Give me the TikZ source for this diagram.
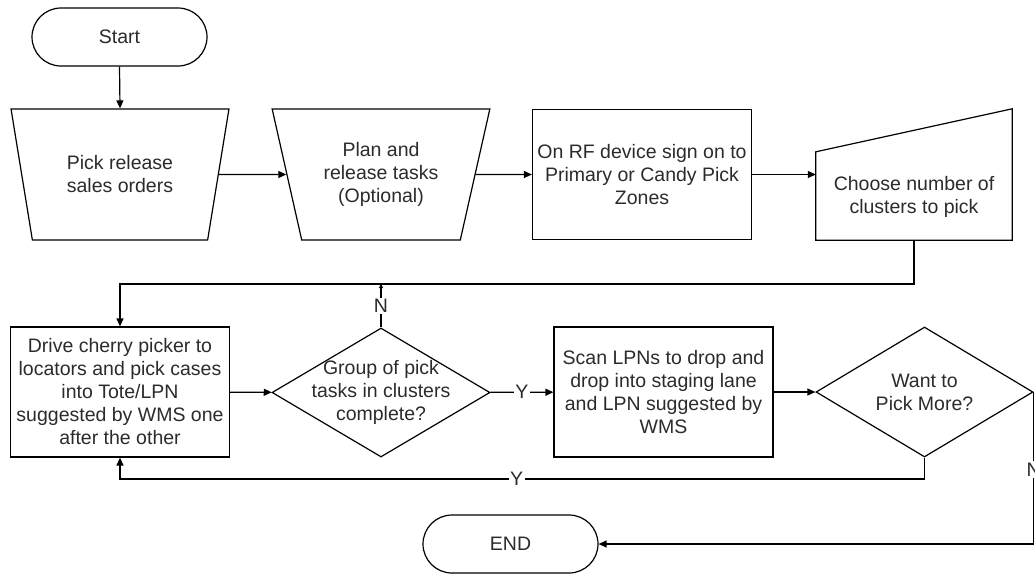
\documentclass[tikz,border=0pt]{standalone}
\usepackage{fontspec}
\setmainfont{Liberation Sans}
\usetikzlibrary{shapes.geometric,shapes.misc,arrows.meta,calc}
\definecolor{ink}{HTML}{2B2B2B}
\begin{document}
\begin{tikzpicture}[x=1pt,y=-1pt,
  every node/.style={font=\fontsize{19.5}{23}\selectfont, text=ink},
  line/.style={draw=black, line width=1.2pt},
  arr/.style={line, -{Triangle[length=8pt,width=7pt]}},
  smallarr/.style={line, -{Triangle[length=4pt,width=4pt]}},
  terminal/.style={rounded rectangle, draw, line width=1.2pt, minimum width=175pt, minimum height=58pt, inner sep=0pt},
  process/.style={rectangle, draw, line width=1.2pt, minimum width=219pt, minimum height=130pt, align=center, inner sep=0pt},
  manualop/.style={trapezium, trapezium stretches=true, shape border rotate=180,
    trapezium left angle=72, trapezium right angle=72, draw, line width=1.2pt,
    minimum width=218pt, minimum height=131pt, inner sep=2pt, align=center},
  decision/.style={diamond, draw, line width=1.2pt, minimum width=218pt, minimum height=129pt, inner sep=0pt},
  inlabel/.style={align=center},
  flag/.style={fill=white, inner sep=1.5pt}
]
\useasboundingbox (0,0) rectangle (1035,574);

% first row
\node[terminal] (start) at (119.5,37) {Start};
\node[manualop] (pick) at (120,174.5) {Pick release\\sales orders};
\node[manualop] (plan) at (381,174.5) {Plan and\\release tasks\\(Optional)};
\node[process] (rf) at (642,174.5) {On RF device sign on to\\Primary or Candy Pick\\Zones};
\node[minimum width=196pt, minimum height=131pt, inner sep=0pt] (choose) at (914,174.5) {};
\draw[line] (choose.south west) -- (choose.south east) -- (choose.north east)
  -- ($(choose.north west)+(0,43)$) -- cycle;
\node[align=center] (choosetext) at ($(choose)+(0,22)$) {Choose number of\\clusters to pick};

% second row
\node[process] (drive) at (120,392) {Drive cherry picker to\\locators and pick cases\\into Tote/LPN\\suggested by WMS one\\after the other};
\node[decision, label={[inlabel]center:Group of pick\\tasks in clusters\\complete?}] (grp) at (381,392.5) {};
\node[process] (scan) at (663.5,392) {Scan LPNs to drop and\\drop into staging lane\\and LPN suggested by\\WMS};
\node[decision, minimum width=217pt, minimum height=130pt, label={[inlabel]center:Want to\\Pick More?}] (more) at (924.5,392) {};

\node[terminal] (end) at (510.5,544) {END};

% routing levels
\coordinate (upper) at (0,284);
\coordinate (lower) at (0,479);

% connectors
\draw[arr] (start.south) -- (pick.north);
\draw[arr] (pick) -- (plan);
\draw[arr] (plan) -- (rf);
\draw[arr] (rf) -- (choose);
\draw[arr] (choose.south) -- (choose.south |- upper) -| (drive.north);
\draw[smallarr] (grp.north) -- node[flag] {N} (grp.north |- upper);
\draw[arr] (drive) -- (grp);
\draw[arr] (grp) -- node[flag] {Y} (scan);
\draw[arr] (scan) -- (more);
\draw[arr] (more.south) -- (more.south |- lower) -- node[flag, pos=0.507] {Y} (drive.south |- lower) -- (drive.south);
\draw[arr] (more.east) -- node[flag, pos=0.51] {N} (more.east |- end) -- (end.east);
\end{tikzpicture}
\end{document}
